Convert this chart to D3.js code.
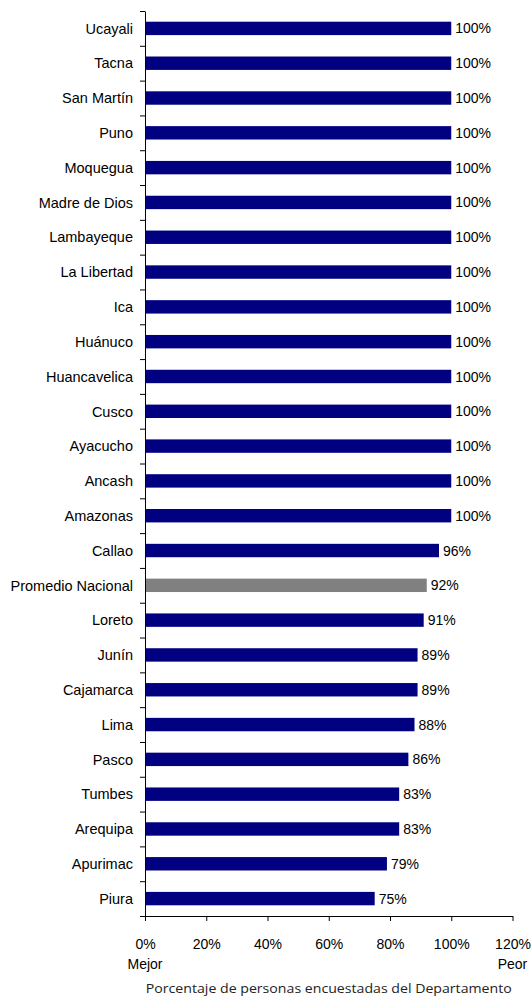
<!DOCTYPE html>
<html>
<head>
<meta charset="utf-8">
<script src="https://cdn.jsdelivr.net/npm/d3@7"></script>
<style>
  html, body { margin: 0; padding: 0; background: #fff; }
  svg { display: block; }
  text { font-family: "Liberation Sans", Arial, sans-serif; fill: #000; }
</style>
</head>
<body>
<script>
// Departments, top to bottom, with the share of respondents (%)
const departments = [
  "Ucayali", "Tacna", "San Martín", "Puno", "Moquegua", "Madre de Dios",
  "Lambayeque", "La Libertad", "Ica", "Huánuco", "Huancavelica", "Cusco",
  "Ayacucho", "Ancash", "Amazonas", "Callao", "Promedio Nacional", "Loreto",
  "Junín", "Cajamarca", "Lima", "Pasco", "Tumbes", "Arequipa", "Apurimac", "Piura"
];
const percentages = [
  100, 100, 100, 100, 100, 100,
  100, 100, 100, 100, 100, 100,
  100, 100, 100, 96, 92, 91,
  89, 89, 88, 86, 83, 83, 79, 75
];
const xTicks = [0, 20, 40, 60, 80, 100, 120];
const highlight = "Promedio Nacional";
const axisEnds = ["Mejor", "Peor"];
const axisTitle = "Porcentaje de personas encuestadas del Departamento";

const W = 531, H = 1003;
const plotLeft = 145, plotRight = 512.5, plotTop = 11, plotBottom = 916;

const svg = d3.select("body").append("svg").attr("width", W).attr("height", H);

const x = d3.scaleLinear().domain([0, 120]).range([plotLeft, plotRight]);
const y = d3.scaleBand().domain(departments).range([plotTop, plotBottom])
  .paddingInner(0.615).paddingOuter(0.3075);

// Bars
svg.append("g").selectAll("rect")
  .data(departments)
  .join("rect")
  .attr("x", x(0))
  .attr("y", d => y(d))
  .attr("width", (d, i) => x(percentages[i]) - x(0))
  .attr("height", y.bandwidth())
  .attr("fill", d => d === highlight ? "#808080" : "#000080");

// Value labels
svg.append("g").selectAll("text")
  .data(departments)
  .join("text")
  .attr("x", (d, i) => x(percentages[i]) + 4)
  .attr("y", d => y(d) + y.bandwidth() / 2)
  .attr("dy", "0.36em")
  .style("font-size", "14px")
  .text((d, i) => percentages[i] + "%");

// Category labels
svg.append("g").selectAll("text")
  .data(departments)
  .join("text")
  .attr("x", plotLeft - 12)
  .attr("y", d => y(d) + y.bandwidth() / 2)
  .attr("dy", "0.36em")
  .attr("text-anchor", "end")
  .style("font-size", "14.5px")
  .text(d => d);

// Vertical axis with ticks at category boundaries
const bounds = d3.scaleLinear().domain([0, departments.length]).range([plotTop, plotBottom]);
const yAxis = svg.append("g")
  .attr("transform", `translate(${plotLeft},0)`)
  .call(d3.axisLeft(bounds)
    .tickValues(d3.range(0, departments.length + 1))
    .tickSize(5).tickSizeOuter(0).tickFormat(""));
yAxis.select(".domain").attr("stroke", "#000");
yAxis.selectAll(".tick line").attr("stroke", "#000");

// Horizontal axis
const xAxis = svg.append("g")
  .attr("transform", `translate(0,${plotBottom})`)
  .call(d3.axisBottom(x).tickValues(xTicks).tickSize(5).tickSizeOuter(0)
    .tickPadding(18).tickFormat(d => d + "%"));
xAxis.select(".domain").attr("stroke", "#000");
xAxis.selectAll(".tick line").attr("stroke", "#000");
xAxis.selectAll(".tick text")
  .style("font-family", "'Liberation Sans', Arial, sans-serif")
  .style("font-size", "14px").attr("fill", "#000");

// Axis end notes
svg.append("g").selectAll("text")
  .data(axisEnds)
  .join("text")
  .attr("x", (d, i) => x(i === 0 ? 0 : 120))
  .attr("y", 969)
  .attr("text-anchor", "middle")
  .style("font-size", "14px")
  .text(d => d);

// Axis title
svg.append("text")
  .attr("x", (plotLeft + plotRight) / 2)
  .attr("y", 993)
  .attr("text-anchor", "middle")
  .attr("textLength", 366)
  .attr("lengthAdjust", "spacingAndGlyphs")
  .style("font-family", "'Open Sans', sans-serif")
  .style("font-size", "13px")
  .style("fill", "#222")
  .text(axisTitle);
</script>
</body>
</html>
